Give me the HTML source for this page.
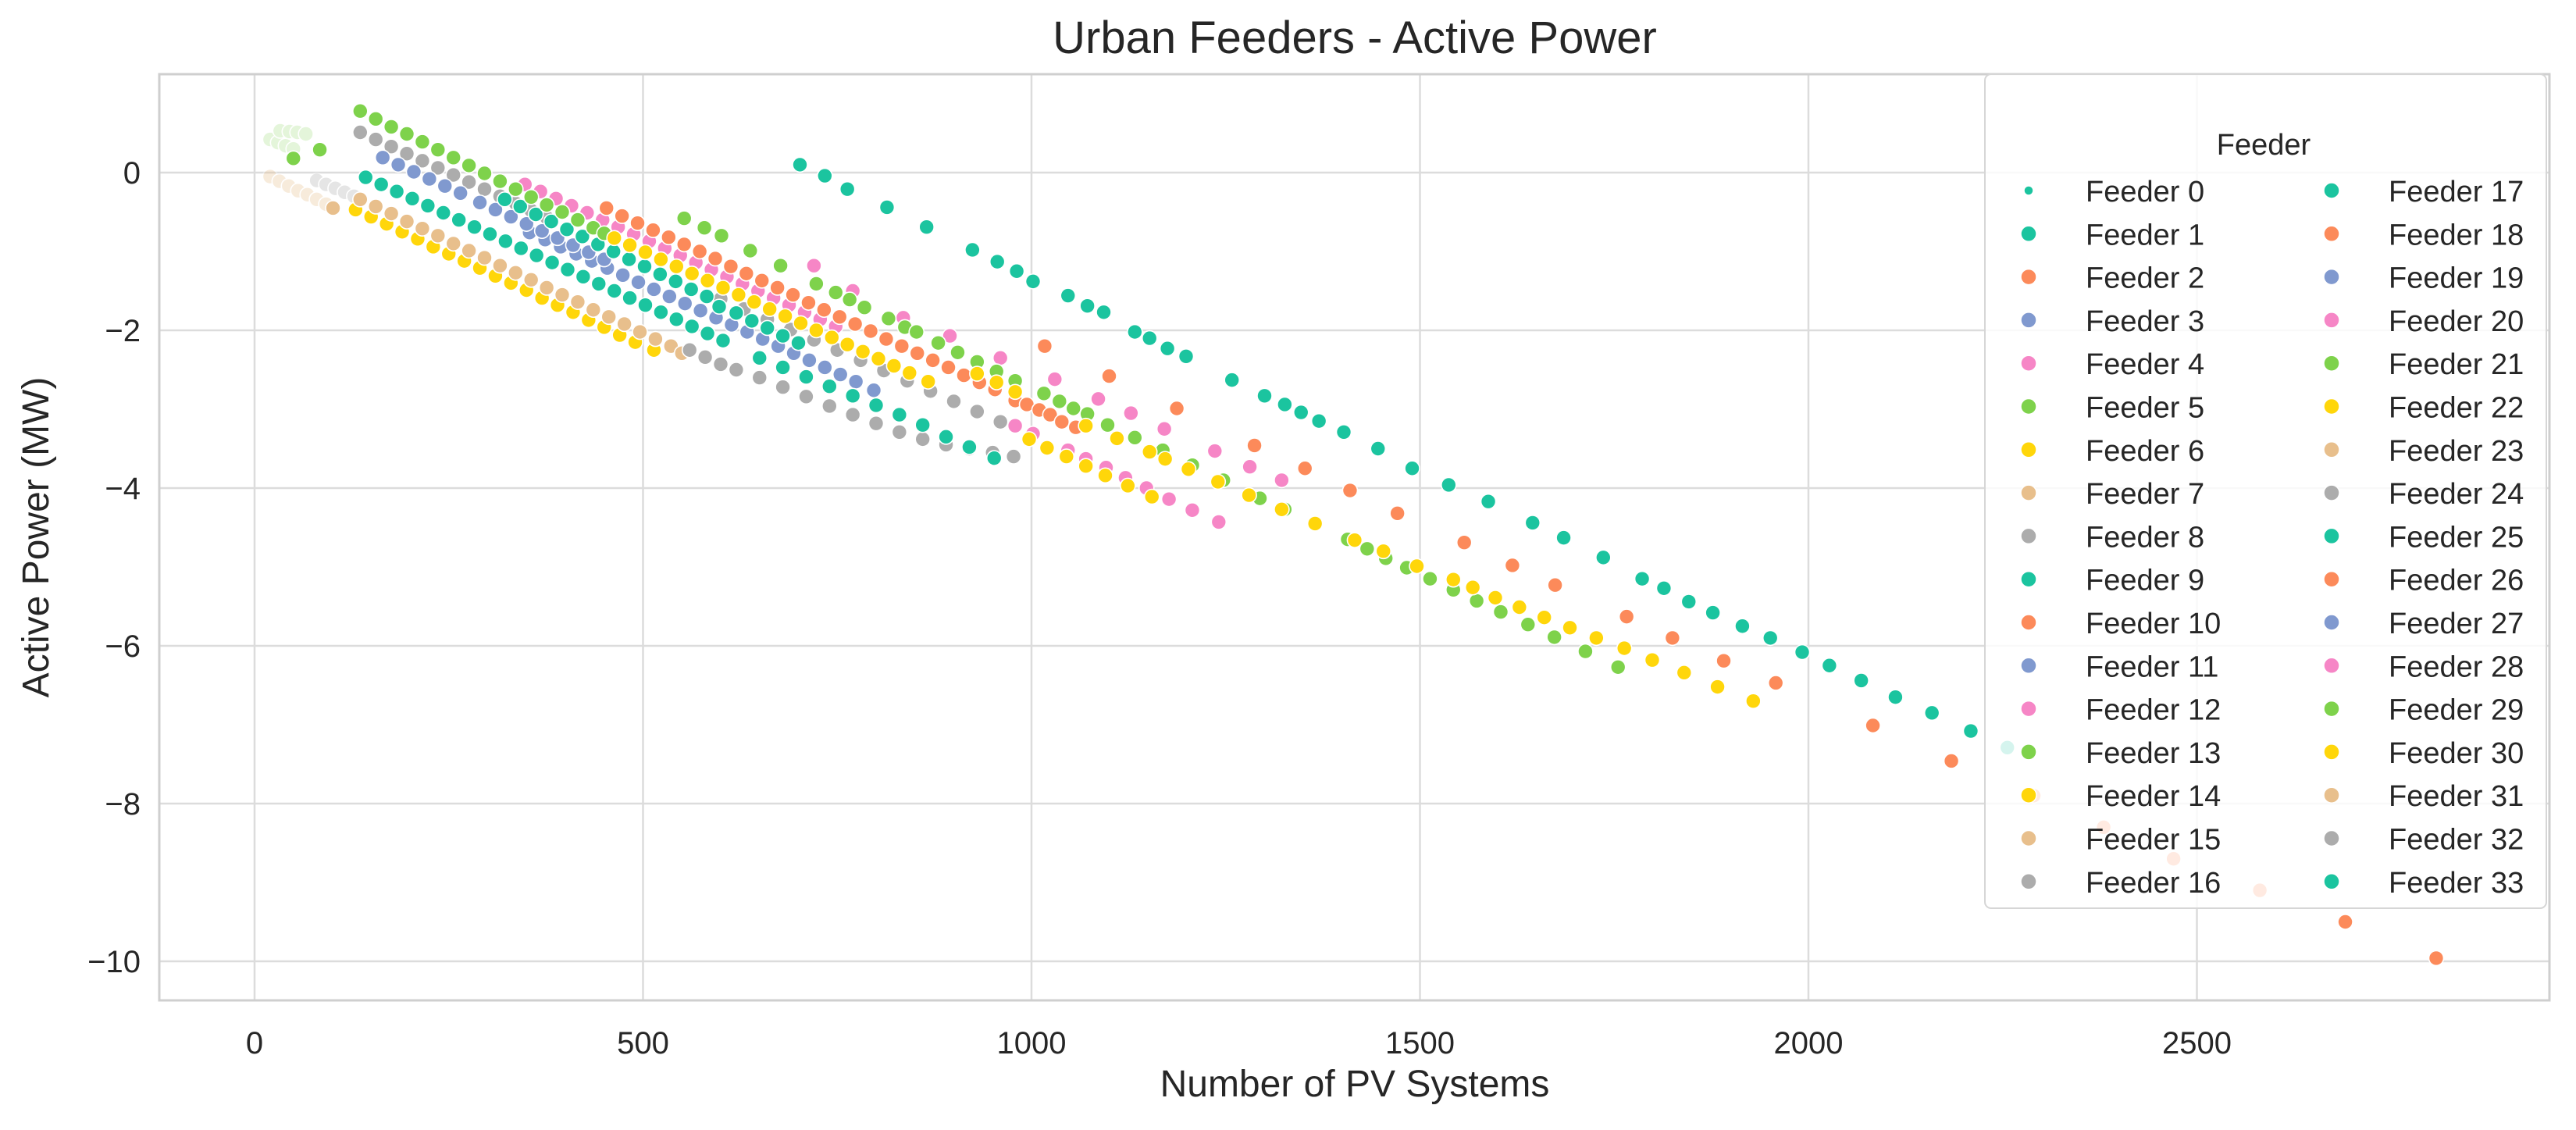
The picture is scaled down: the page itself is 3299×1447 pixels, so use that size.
<!DOCTYPE html>
<html><head><meta charset="utf-8"><style>
html,body{margin:0;padding:0;background:#fff;}
svg{display:block;font-family:"Liberation Sans",Arial,sans-serif;}
</style></head><body>
<svg id="chart" width="3299" height="1447" viewBox="0 0 3299 1447">
<rect x="0" y="0" width="3299" height="1447" fill="#fff"/>
<text x="1735" y="68" text-anchor="middle" font-size="58" fill="#262626">Urban Feeders - Active Power</text>
<g id="grid"></g>
<rect x="204" y="95" width="3061" height="1186" fill="none" stroke="#cfcfcf" stroke-width="3"/>
<g id="ticks"></g>
<text x="1735" y="1404" text-anchor="middle" font-size="48" fill="#262626">Number of PV Systems</text>
<text x="0" y="0" transform="translate(62,688) rotate(-90)" text-anchor="middle" font-size="48" fill="#262626">Active Power (MW)</text>
<g id="marks"></g>
<g id="legend"></g>
</svg>
<script>
const xTicks = [0, 500, 1000, 1500, 2000, 2500];
const yTicks = [0, -2, -4, -6, -8, -10];
const yTickLabels = ["0", "−2", "−4", "−6", "−8", "−10"];
const palette = ["#1bc49f", "#fc8a5a", "#8099cf", "#f686c6", "#7ed24b", "#ffd60a", "#e8bf8c", "#acacac"];
const feederNames = [];
for (let i = 0; i < 34; i++) feederNames.push("Feeder " + i);

const s_teal0_x = [702,734,763,814,865,924,956,981,1002,1047,1072,1093,1133,1152,1175,1199,1258,1300,1326,1347,1370,1402,1446,1490,1537,1588,1645,1685,1736,1786,1814,1846,1877,1915,1951,1992,2027,2068,2112,2159,2209,2256];
const s_teal0_y = [0.1,-0.04,-0.21,-0.44,-0.69,-0.98,-1.13,-1.25,-1.38,-1.56,-1.69,-1.77,-2.02,-2.1,-2.23,-2.33,-2.63,-2.83,-2.94,-3.04,-3.15,-3.29,-3.5,-3.75,-3.96,-4.17,-4.44,-4.63,-4.88,-5.15,-5.27,-5.44,-5.58,-5.75,-5.9,-6.08,-6.25,-6.44,-6.65,-6.85,-7.08,-7.29];
const s_or26_x = [1017,1100,1187,1287,1352,1410,1471,1557,1619,1674,1766,1825,1891,1958,2083,2184,2290,2380,2470,2581,2691,2808];
const s_or26_y = [-2.20,-2.58,-2.99,-3.46,-3.75,-4.03,-4.32,-4.69,-4.98,-5.23,-5.63,-5.90,-6.19,-6.47,-7.01,-7.46,-7.9,-8.3,-8.7,-9.1,-9.5,-9.96];
const s_yelA_x = [930,955,979,1070,1110,1152,1172,1202,1240,1280,1322,1365,1416,1453,1496,1543,1568,1597,1628,1660,1693,1727,1763,1799,1840,1883,1929];
const s_yelA_y = [-2.55,-2.66,-2.78,-3.21,-3.37,-3.54,-3.63,-3.76,-3.92,-4.09,-4.27,-4.45,-4.66,-4.80,-4.99,-5.16,-5.26,-5.39,-5.51,-5.64,-5.77,-5.90,-6.03,-6.18,-6.34,-6.52,-6.70];
const s_yelB_x = [997,1020,1045,1070,1095,1124,1155];
const s_yelB_y = [-3.38,-3.49,-3.60,-3.72,-3.84,-3.97,-4.11];
const s_grn21_x = [553,579,601,638,677,723,748,766,785,816,837,852,880,905,930,955,979,1016,1036,1054,1072,1098,1133,1169,1207,1247,1294,1326,1407,1432,1456,1483,1513,1543,1573,1604,1639,1673,1713,1755];
const s_grn21_y = [-0.58,-0.70,-0.80,-0.99,-1.18,-1.41,-1.52,-1.61,-1.71,-1.85,-1.96,-2.02,-2.16,-2.28,-2.40,-2.52,-2.64,-2.80,-2.90,-2.99,-3.06,-3.20,-3.36,-3.52,-3.71,-3.90,-4.13,-4.27,-4.65,-4.77,-4.89,-5.01,-5.15,-5.29,-5.43,-5.57,-5.73,-5.89,-6.07,-6.27];
const s_pnkA_x = [720,770,835,895,960,1030,1086,1128,1171,1236,1281,1322];
const s_pnkA_y = [-1.18,-1.50,-1.84,-2.07,-2.35,-2.62,-2.87,-3.05,-3.25,-3.53,-3.73,-3.90];
const s_pnkB_x = [979,1002,1047,1070,1096,1121,1148,1177,1207,1241];
const s_pnkB_y = [-3.21,-3.31,-3.52,-3.63,-3.74,-3.87,-4.0,-4.14,-4.28,-4.43];
const s_grn5_x = [136,156,176,196,216,236,256,276,296,316,336,356,376,396,416,436,450];
const s_grn5_y = [0.78,0.68,0.58,0.49,0.39,0.29,0.19,0.09,-0.01,-0.11,-0.21,-0.31,-0.41,-0.50,-0.60,-0.70,-0.77];
const s_gry8_x = [136,156,176,196,216,236,256,276,296,316,336,356,376];
const s_gry8_y = [0.51,0.42,0.33,0.24,0.15,0.06,-0.03,-0.12,-0.21,-0.30,-0.39,-0.48,-0.57];
const s_blu3_x = [165,185,205,225,245,265,290,310,330,350,370,390,410,430,450];
const s_blu3_y = [0.19,0.10,0.01,-0.08,-0.17,-0.26,-0.38,-0.47,-0.56,-0.65,-0.74,-0.83,-0.92,-1.01,-1.10];
const s_tel1_x = [143,163,183,203,223,243,263,283,303,323,343,363,383,403,423,443,463,483,503,523,543,563,583,603];
const s_tel1_y = [-0.06,-0.15,-0.24,-0.33,-0.42,-0.51,-0.60,-0.69,-0.78,-0.87,-0.96,-1.05,-1.14,-1.23,-1.32,-1.41,-1.50,-1.59,-1.68,-1.77,-1.86,-1.95,-2.04,-2.13];
const s_tan7_x = [136,156,176,196,216,236,256,276,296,316,336,356,376,396,416,436,456,476,496,516,536,550];
const s_tan7_y = [-0.34,-0.43,-0.52,-0.62,-0.71,-0.80,-0.90,-0.99,-1.08,-1.18,-1.27,-1.36,-1.46,-1.55,-1.64,-1.74,-1.83,-1.92,-2.02,-2.11,-2.20,-2.29];
const s_yel6_x = [130,150,170,190,210,230,250,270,290,310,330,350,370,390,410,430,450,470,490,514];
const s_yel6_y = [-0.47,-0.56,-0.65,-0.75,-0.84,-0.94,-1.03,-1.12,-1.21,-1.31,-1.40,-1.49,-1.59,-1.68,-1.77,-1.87,-1.96,-2.06,-2.15,-2.25];
const s_or2_x = [453,473,493,513,533,553,573,593,613,633,653,673,693,713,733,753,773,793,813,833,853,873,893,913,933,953,979,994,1010,1024,1039,1057];
const s_or2_y = [-0.45,-0.55,-0.64,-0.73,-0.82,-0.91,-1.00,-1.09,-1.19,-1.28,-1.37,-1.46,-1.55,-1.65,-1.74,-1.83,-1.92,-2.01,-2.11,-2.20,-2.29,-2.38,-2.47,-2.57,-2.66,-2.75,-2.89,-2.94,-3.01,-3.07,-3.16,-3.23];
const s_pnk4_x = [348,368,388,408,428,448,468,488,508,528,548,568,588,608,628,648,668,688,708,728,748];
const s_pnk4_y = [-0.15,-0.24,-0.33,-0.42,-0.51,-0.60,-0.69,-0.78,-0.87,-0.96,-1.05,-1.14,-1.23,-1.32,-1.41,-1.50,-1.59,-1.68,-1.77,-1.86,-1.95];
const s_yel14_x = [463,483,503,523,543,563,583,603,623,643,663,683,703,723,743,763,783,803,823,843,867];
const s_yel14_y = [-0.83,-0.92,-1.01,-1.10,-1.19,-1.28,-1.37,-1.46,-1.55,-1.64,-1.73,-1.82,-1.91,-2.00,-2.09,-2.18,-2.27,-2.36,-2.45,-2.54,-2.65];
const s_blu11_x = [354,374,394,414,434,454,474,494,514,534,554,574,594,614,634,654,674,694,714,734,754,774,797];
const s_blu11_y = [-0.76,-0.85,-0.94,-1.03,-1.12,-1.21,-1.30,-1.39,-1.48,-1.57,-1.66,-1.75,-1.84,-1.93,-2.02,-2.11,-2.20,-2.29,-2.38,-2.47,-2.56,-2.65,-2.76];
const s_gry16_x = [560,580,600,620,650,680,710,740,770,800,830,860,890,920,950,977];
const s_gry16_y = [-2.25,-2.34,-2.43,-2.50,-2.60,-2.72,-2.84,-2.96,-3.07,-3.18,-3.29,-3.38,-3.45,-3.50,-3.55,-3.6];
const s_gry24_x = [600,630,660,690,720,750,780,810,840,870,900,930,960];
const s_gry24_y = [-1.60,-1.73,-1.86,-1.99,-2.12,-2.25,-2.38,-2.51,-2.64,-2.77,-2.90,-3.03,-3.16];
const s_tel9_x = [650,680,710,740,770,800,830,860,890,920,952];
const s_tel9_y = [-2.35,-2.47,-2.59,-2.71,-2.83,-2.95,-3.07,-3.2,-3.35,-3.48,-3.62];
const s_tel17_x = [322,342,362,382,402,422,442,462,482,502,522,542,562,582,598,620,640,660,680,700];
const s_tel17_y = [-0.34,-0.43,-0.53,-0.62,-0.72,-0.81,-0.91,-1.00,-1.10,-1.19,-1.29,-1.38,-1.48,-1.57,-1.70,-1.78,-1.88,-1.97,-2.07,-2.16];
const s_fadeG_x = [20,30,40,50,33,45,55,66];
const s_fadeG_y = [0.42,0.38,0.34,0.30,0.53,0.52,0.51,0.49];
const s_solidG_x = [50,84];
const s_solidG_y = [0.18,0.29];
const s_fadeT_x = [20,32,44,56,68,80,92];
const s_fadeT_y = [-0.05,-0.11,-0.17,-0.23,-0.28,-0.34,-0.40];
const s_solidT_x = [101];
const s_solidT_y = [-0.45];
const s_fadeY_x = [80,92,104,116,128];
const s_fadeY_y = [-0.1,-0.15,-0.2,-0.25,-0.3];

const series = [
  [7, 0.3, s_fadeY_x, s_fadeY_y],
  [4, 0.2, s_fadeG_x, s_fadeG_y],
  [4, 1, s_solidG_x, s_solidG_y],
  [6, 0.3, s_fadeT_x, s_fadeT_y],
  [6, 1, s_solidT_x, s_solidT_y],
  [5, 1, s_yel6_x, s_yel6_y],
  [6, 1, s_tan7_x, s_tan7_y],
  [0, 1, s_tel1_x, s_tel1_y],
  [2, 1, s_blu11_x, s_blu11_y],
  [7, 1, s_gry16_x, s_gry16_y],
  [0, 1, s_tel9_x, s_tel9_y],
  [7, 1, s_gry24_x, s_gry24_y],
  [7, 1, s_gry8_x, s_gry8_y],
  [2, 1, s_blu3_x, s_blu3_y],
  [0, 1, s_tel17_x, s_tel17_y],
  [3, 1, s_pnk4_x, s_pnk4_y],
  [4, 1, s_grn5_x, s_grn5_y],
  [5, 1, s_yel14_x, s_yel14_y],
  [1, 1, s_or2_x, s_or2_y],
  [3, 1, s_pnkB_x, s_pnkB_y],
  [5, 1, s_yelB_x, s_yelB_y],
  [3, 1, s_pnkA_x, s_pnkA_y],
  [4, 1, s_grn21_x, s_grn21_y],
  [5, 1, s_yelA_x, s_yelA_y],
  [1, 1, s_or26_x, s_or26_y],
  [0, 1, s_teal0_x, s_teal0_y]
];

const NS = "http://www.w3.org/2000/svg";
const X0 = 326, XS = 0.995, Y0 = 221, YS = 101;
function xScale(v) { return X0 + v * XS; }
function yScale(v) { return Y0 - v * YS; }
function mk(tag, attrs, parent) {
  const e = document.createElementNS(NS, tag);
  for (const k in attrs) e.setAttribute(k, attrs[k]);
  parent.appendChild(e);
  return e;
}
const grid = document.getElementById("grid");
const ticks = document.getElementById("ticks");
xTicks.forEach((t) => {
  const l = mk("line", {x1: xScale(t), x2: xScale(t), y1: 95, y2: 1281, stroke: "#dcdcdc", "stroke-width": 2.5}, grid);
  
  
  const tx = mk("text", {x: xScale(t), y: 1349, "text-anchor": "middle", "font-size": 40, fill: "#262626"}, ticks);
  tx.textContent = String(t);
  
  
});
yTicks.forEach((t, i) => {
  const l = mk("line", {x1: 204, x2: 3265, y1: yScale(t), y2: yScale(t), stroke: "#dcdcdc", "stroke-width": 2.5}, grid);
  
  
  const tx = mk("text", {x: 180, y: yScale(t) + 14, "text-anchor": "end", "font-size": 40, fill: "#262626"}, ticks);
  tx.textContent = yTickLabels[i];
  
  
});
const marks = document.getElementById("marks");
series.forEach((s) => {
  const g = mk("g", {opacity: s[1]}, marks);
  
  
  s[2].forEach((xv, j) => {
    const c = mk("circle", {cx: xScale(xv), cy: yScale(s[3][j]), r: 9.5, fill: palette[s[0]], stroke: "#fff", "stroke-width": 1.6}, g);
    
    
  });
});
const legend = document.getElementById("legend");
const box = mk("rect", {x: 2542, y: 95, width: 719, height: 1068, rx: 8, fill: "rgba(255,255,255,0.82)", stroke: "#d6d6d6", "stroke-width": 2}, legend);


const lt = mk("text", {x: 2899, y: 198, "text-anchor": "middle", "font-size": 38, fill: "#262626"}, legend);
lt.textContent = "Feeder";


feederNames.forEach((name, i) => {
  const col = i < 17 ? 0 : 1;
  const row = i % 17;
  const y = 244 + row * 55.3;
  const mx = col ? 2986 : 2598;
  const color = i === 0 ? palette[0] : palette[(i - 1) % 8];
  const g = mk("g", {}, legend);
  
  
  mk("circle", {cx: mx, cy: y, r: i === 0 ? 6 : 10, fill: color, stroke: "#fff", "stroke-width": 1.5}, g);
  const t = mk("text", {x: mx + 73, y: y + 14, "font-size": 38, fill: "#262626"}, g);
  t.textContent = name;
});
</script>
</body></html>
